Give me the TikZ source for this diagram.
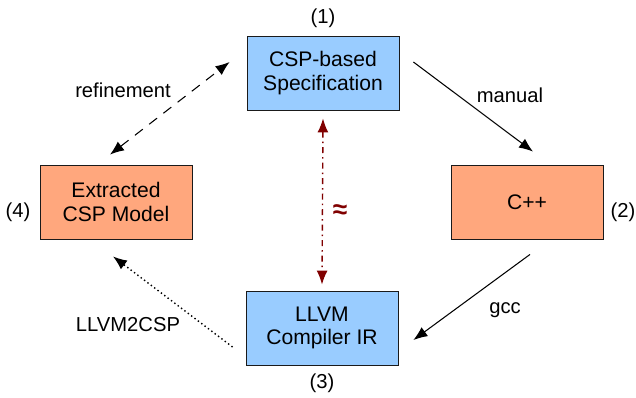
\documentclass[tikz,border=0pt]{standalone}
\usepackage{fontspec}
\setmainfont{Liberation Sans}
\usetikzlibrary{arrows.meta}

\begin{document}
\begin{tikzpicture}[x=0.02cm, y=-0.02cm]

\definecolor{specBlue}{HTML}{99CCFF}
\definecolor{modelOrange}{HTML}{FFA77D}
\definecolor{boxBorder}{HTML}{1A1A1A}
\definecolor{approxRed}{HTML}{800000}

\tikzset{
  stagebox/.style={draw=boxBorder, line width=0.5pt, minimum width=3.04cm, minimum height=1.48cm,
    inner sep=0pt, align=center, font=\fontsize{12}{13.5}\selectfont},
  tag/.style={font=\fontsize{11.5}{12}\selectfont},
  flow/.style={-{Latex[length=2.8mm, width=2.2mm]}, line width=0.6pt},
}

% fix the margins
\useasboundingbox (0,0) rectangle (636,397);

% (1) Specification
\node[stagebox, fill=specBlue] (spec) at (323,73) {CSP-based\\Specification};
\node[tag] (specnum) at (323,18) {(1)};

% (2) C++
\node[stagebox, fill=modelOrange] (cpp) at (527,202) {C++};
\node[tag] (cppnum) at (623,212) {(2)};

% (3) LLVM IR
\node[stagebox, fill=specBlue] (llvm) at (322,328) {LLVM\\Compiler IR};
\node[tag] (llvmnum) at (322,383) {(3)};

% (4) Extracted model
\node[stagebox, fill=modelOrange] (ext) at (116,202) {Extracted\\CSP Model};
\node[tag] (extnum) at (18,212) {(4)};

% refinement (dashed, both ways)
\draw[flow, {Latex[length=2.8mm, width=2.2mm]}-{Latex[length=2.8mm, width=2.2mm]}, dash pattern=on 2mm off 1.6mm]
  ([xshift=-0.12cm, yshift=0.2cm]ext.north) -- ([xshift=-0.34cm, yshift=0.22cm]spec.west);
\node[tag] (reflabel) at (123,90) {refinement};

% manual
\draw[flow] ([xshift=0.28cm, yshift=0.22cm]spec.east) -- ([xshift=0.12cm, yshift=0.26cm]cpp.north);
\node[tag] (manlabel) at (510,95) {manual};

% gcc
\draw[flow] ([xshift=0.06cm, yshift=-0.3cm]cpp.south) -- ([xshift=0.3cm, yshift=-0.24cm]llvm.east);
\node[tag] (gcclabel) at (505,310) {gcc};

% LLVM2CSP (dotted)
\draw[flow, line width=0.8pt, dash pattern=on 0.8pt off 1.6pt] ([xshift=-0.26cm, yshift=-0.38cm]llvm.west) -- ([xshift=-0.06cm, yshift=-0.34cm]ext.south);
\node[tag] (l2clabel) at (128,325) {LLVM2CSP};

% equivalence (dash dot, dark red)
\draw[flow, {Latex[length=2.8mm, width=2.2mm]}-{Latex[length=2.8mm, width=2.2mm]}, approxRed, line width=0.8pt,
  dash pattern=on 1.2mm off 0.8mm on 0.3mm off 0.8mm]
  ([yshift=-0.16cm]spec.south) -- ([yshift=0.12cm]llvm.north);
\node[text=approxRed, font=\fontsize{15}{15}\selectfont\bfseries] (approx) at (340,212) {≈};

\end{tikzpicture}
\end{document}
